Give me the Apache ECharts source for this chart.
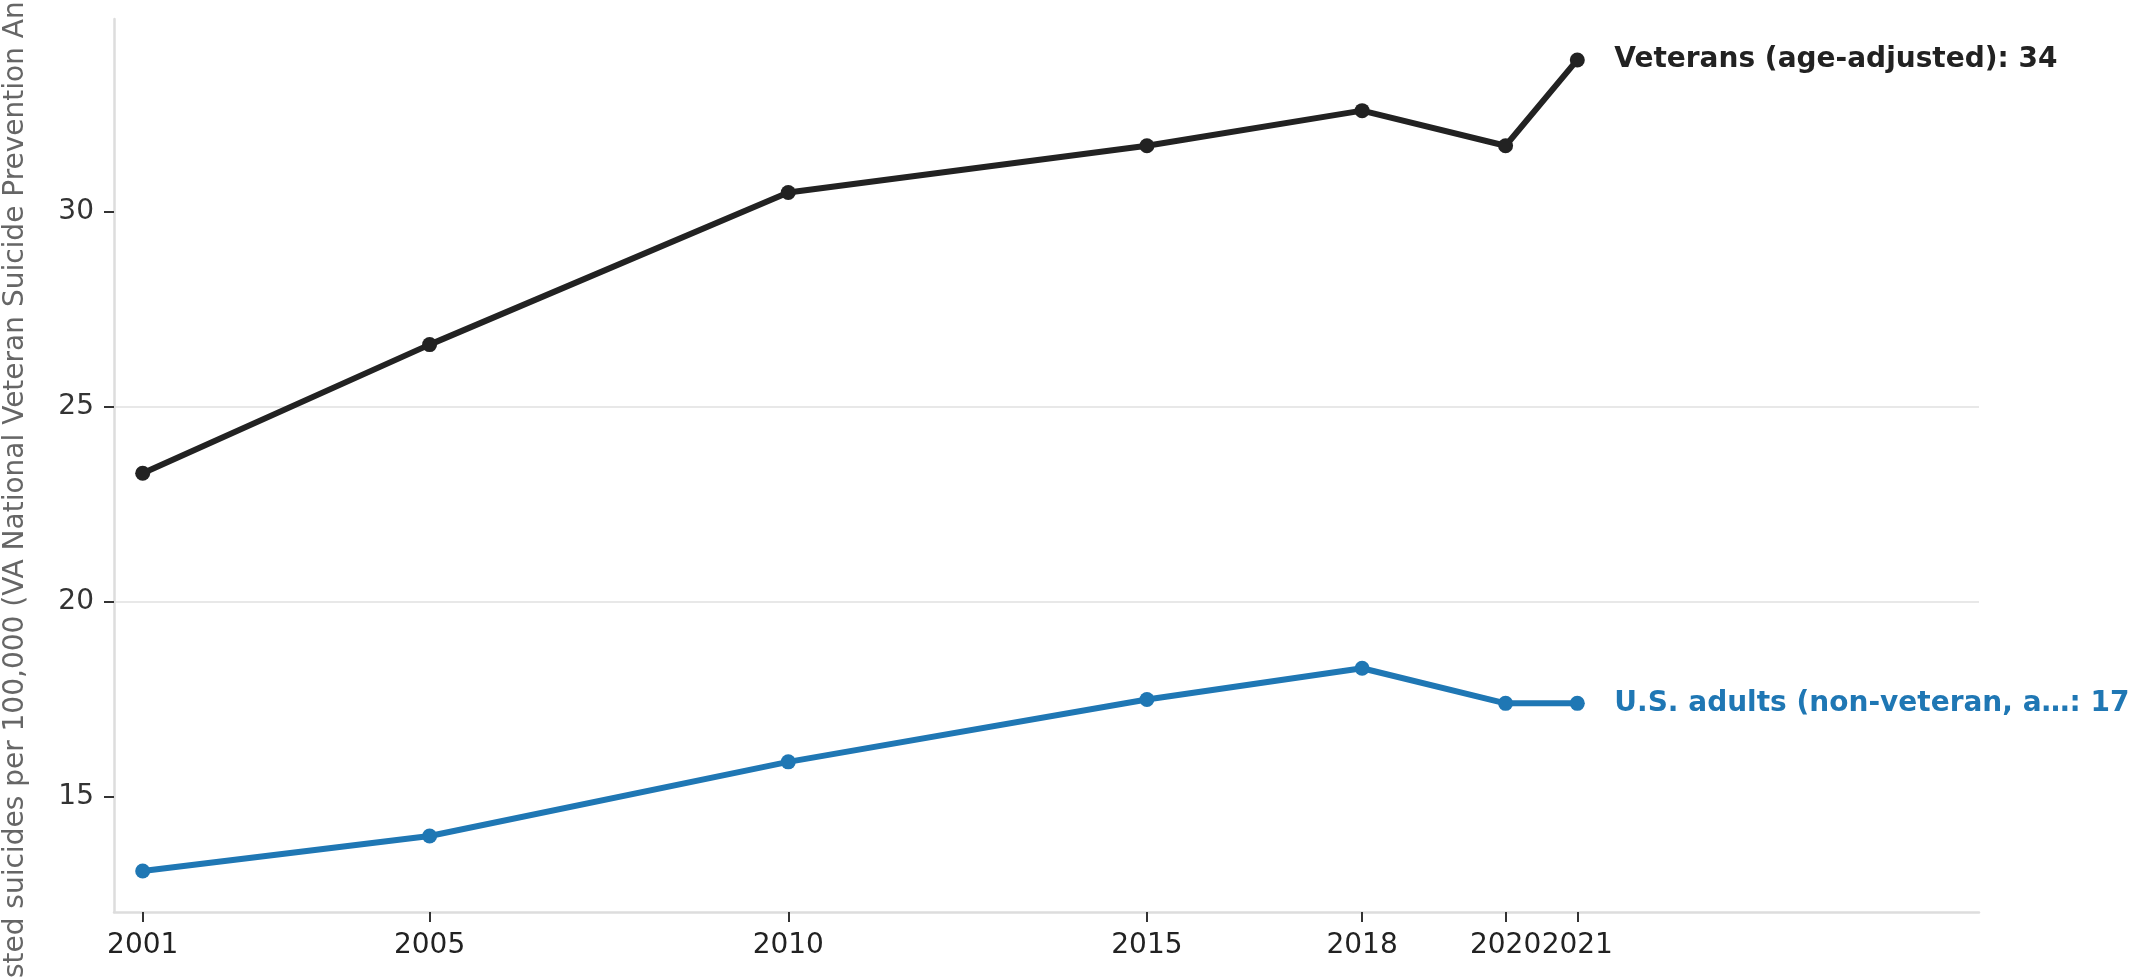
<!DOCTYPE html>
<html>
<head>
<meta charset="utf-8">
<title>Veteran suicide rates</title>
<script src="https://cdn.jsdelivr.net/npm/echarts@6/dist/echarts.min.js"></script>
<style>
  html, body { margin: 0; padding: 0; background: #fff; }
  #chart { width: 2145px; height: 980px; }
</style>
</head>
<body>
<div id="chart"></div>
<script>
// data
var years = [2001, 2005, 2010, 2015, 2018, 2020, 2021];
var veterans = [23.3, 26.6, 30.5, 31.7, 32.6, 31.7, 33.9];
var usAdults = [13.1, 14.0, 15.9, 17.5, 18.3, 17.4, 17.4];
var yTicks = [15, 20, 25, 30];
var vetName = 'Veterans (age-adjusted)';
var usName = 'U.S. adults (non-veteran, a…';
var yTitle = 'Age-adjusted suicides per 100,000 (VA National Veteran Suicide Prevention Annual Report)';

function pairs(xs, ys) {
  return xs.map(function (x, i) { return [x, ys[i]]; });
}

var font = 'DejaVu Sans';
var chart = echarts.init(document.getElementById('chart'));

chart.setOption({
  animation: false,
  grid: { left: 114, right: 166, top: 19, bottom: 68, containLabel: false, outerBoundsMode: 'none' },
  xAxis: {
    type: 'value',
    min: 2000.6,
    max: 2026.6,
    axisLine: { show: true, lineStyle: { color: '#dddddd', width: 2.5 } },
    axisTick: { show: true, customValues: years, length: 10, lineStyle: { color: '#333', width: 2 } },
    axisLabel: {
      customValues: years,
      formatter: function (v) { return String(v); },
      fontFamily: font, fontSize: 28, color: '#222', margin: 20
    },
    splitLine: { show: false }
  },
  yAxis: {
    type: 'value',
    min: 12.05,
    max: 34.95,
    name: yTitle,
    nameLocation: 'middle',
    nameRotate: 90,
    nameGap: 84,
    nameTextStyle: { fontFamily: font, fontSize: 28, color: '#666' },
    axisLine: { show: true, lineStyle: { color: '#dddddd', width: 2.5 } },
    axisTick: { show: true, customValues: yTicks, length: 10, lineStyle: { color: '#333', width: 2 } },
    axisLabel: {
      customValues: yTicks,
      fontFamily: font, fontSize: 28, color: '#333', margin: 20
    },
    splitLine: { show: true, showMinLine: false, showMaxLine: false, lineStyle: { color: '#e8e8e8', width: 2 } }
  },
  series: [
    {
      name: vetName,
      type: 'line',
      data: pairs(years, veterans),
      symbol: 'circle',
      symbolSize: 15,
      lineStyle: { color: '#222222', width: 6 },
      itemStyle: { color: '#222222' },
      endLabel: {
        show: true,
        distance: 37,
        formatter: function (p) { return vetName + ': ' + Math.round(p.value[1]); },
        fontFamily: font, fontSize: 28, fontWeight: 'bold', color: '#222222'
      }
    },
    {
      name: usName,
      type: 'line',
      data: pairs(years, usAdults),
      symbol: 'circle',
      symbolSize: 15,
      lineStyle: { color: '#1f77b4', width: 6 },
      itemStyle: { color: '#1f77b4' },
      endLabel: {
        show: true,
        distance: 37,
        formatter: function (p) { return usName + ': ' + Math.round(p.value[1]); },
        fontFamily: font, fontSize: 28, fontWeight: 'bold', color: '#1f77b4'
      }
    }
  ]
});
</script>
</body>
</html>
